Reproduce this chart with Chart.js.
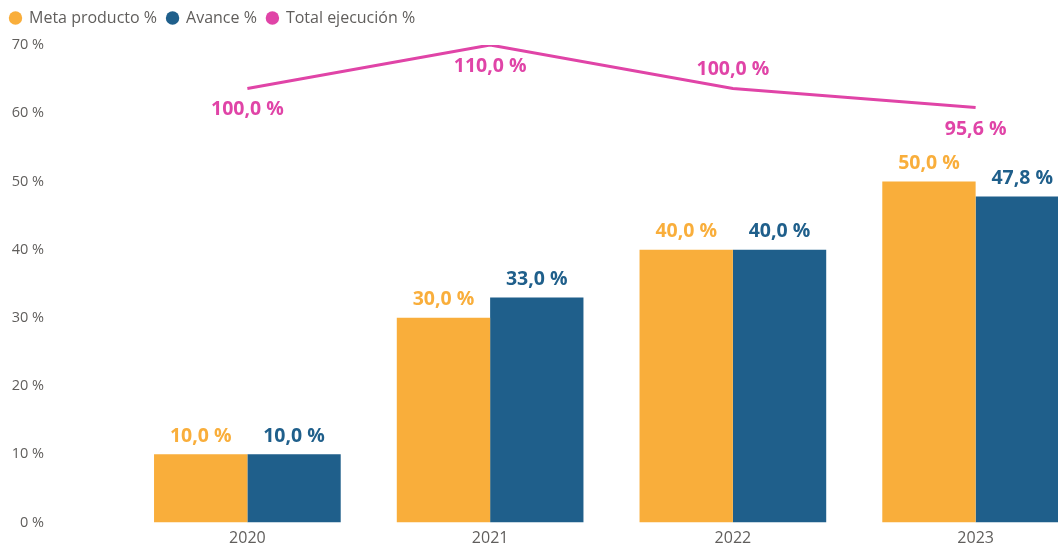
<!DOCTYPE html>
<html><head><meta charset="utf-8">
<script src="https://cdn.jsdelivr.net/npm/chart.js@4.4.1/dist/chart.umd.min.js"></script>
<style>html,body{margin:0;padding:0;overflow:hidden;background:#fff}#wrap{width:1097px;height:548px;position:relative}</style>
</head><body><div id="wrap"><canvas id="c" width="1097" height="548"></canvas></div>
<script>
const categories = ['2020', '2021', '2022', '2023'];
const metaProducto = [10.0, 30.0, 40.0, 50.0];
const avance = [10.0, 33.0, 40.0, 47.8];
const totalEjecucion = [100.0, 110.0, 100.0, 95.6];
const yTicks = [0, 10, 20, 30, 40, 50, 60, 70];
const lineLabelSide = ['below', 'below', 'above', 'below'];
const legendOrder = ['Meta producto %', 'Avance %', 'Total ejecución %'];

const ORANGE = '#F9AE3B', BLUE = '#1F5F8B', PINK = '#E044A7', GREY = '#605E5C';
const FONT = '"Open Sans", "Noto Sans", sans-serif';
const fmt = v => v.toFixed(1).replace('.', ',') + ' %';

const labelPlugin = {
  id: 'valueLabels',
  afterLayout(chart) {
    // lift the legend a little closer to the top edge
    chart.legend.top -= 9;
    chart.legend.bottom -= 9;
  },
  afterDatasetsDraw(chart) {
    const ctx = chart.ctx;
    ctx.save();
    ctx.font = 'bold 19.5px ' + FONT;
    ctx.textAlign = 'center';
    ctx.textBaseline = 'alphabetic';
    chart.data.datasets.forEach((ds, i) => {
      const meta = chart.getDatasetMeta(i);
      meta.data.forEach((el, j) => {
        const v = ds.data[j];
        let y;
        if (ds.type === 'line') {
          y = lineLabelSide[j] === 'above' ? el.y - 13 : el.y + 27;
        } else {
          y = el.y - 12.5;
        }
        ctx.fillStyle = ds.labelColor;
        ctx.fillText(fmt(v), el.x, y);
      });
    });
    ctx.restore();
  }
};

new Chart(document.getElementById('c'), {
  data: {
    labels: categories,
    datasets: [
      { type: 'line', label: 'Total ejecución %', data: totalEjecucion, yAxisID: 'y2',
        borderColor: PINK, backgroundColor: PINK, labelColor: PINK, borderWidth: 3,
        pointRadius: 0, tension: 0, order: 0 },
      { type: 'bar', label: 'Meta producto %', data: metaProducto, yAxisID: 'y',
        backgroundColor: ORANGE, labelColor: ORANGE, order: 1,
        categoryPercentage: 0.769, barPercentage: 1 },
      { type: 'bar', label: 'Avance %', data: avance, yAxisID: 'y',
        backgroundColor: BLUE, labelColor: BLUE, order: 2,
        categoryPercentage: 0.769, barPercentage: 1 }
    ]
  },
  options: {
    responsive: false,
    animation: false,
    layout: { padding: 0 },
    plugins: {
      tooltip: { enabled: false },
      legend: {
        display: true, position: 'top', align: 'start',
        labels: {
          usePointStyle: true, pointStyle: 'circle', boxWidth: 11, boxHeight: 9.5,
          color: GREY, font: { family: FONT, size: 16 }, padding: 10,
          generateLabels(chart) {
            const items = Chart.defaults.plugins.legend.labels.generateLabels(chart);
            items.forEach(it => { it.lineWidth = 0; it.strokeStyle = it.fillStyle; it.pointStyle = 'circle'; });
            return items;
          },
          sort: (a, b) => legendOrder.indexOf(a.text) - legendOrder.indexOf(b.text)
        }
      }
    },
    scales: {
      x: {
        grid: { display: false, drawTicks: false }, border: { display: false },
        ticks: { color: GREY, font: { family: FONT, size: 16 }, padding: 6 },
        afterFit(s) { s.height = 25.5; }
      },
      y: {
        position: 'left', min: 0, max: 70,
        grid: { display: false, drawTicks: false }, border: { display: false },
        afterBuildTicks(s) { s.ticks = yTicks.map(v => ({ value: v })); },
        ticks: { color: GREY, font: { family: FONT, size: 14.5 }, padding: 82, callback: v => v + ' %' },
        afterFit(s) { s.width = 126; s.paddingTop = 45; s.paddingBottom = 0; }
      },
      y2: { display: false, min: 0, max: 110 }
    }
  },
  plugins: [labelPlugin]
});
</script></body></html>
